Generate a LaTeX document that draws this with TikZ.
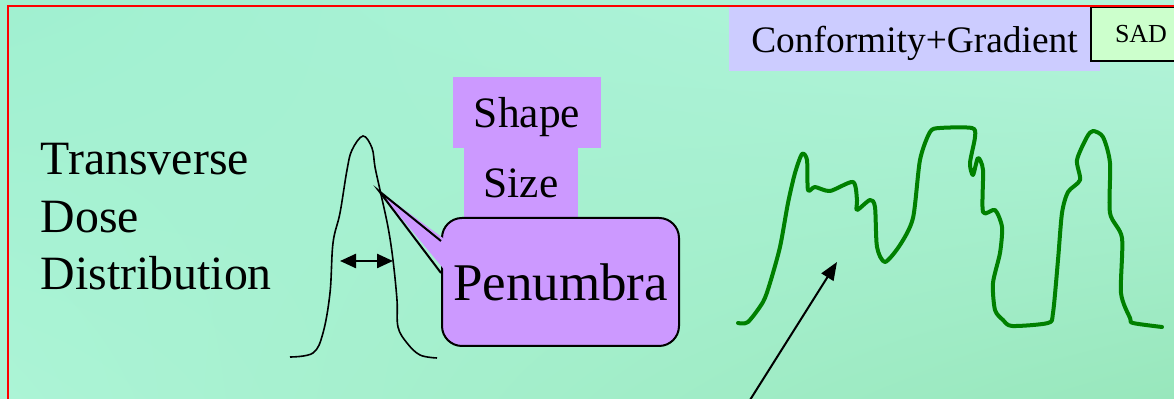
\documentclass[tikz,border=0pt]{standalone}
\usepackage{fontspec}
\setmainfont{Liberation Serif}
\usetikzlibrary{arrows.meta,shadings}

\definecolor{mintUL}{RGB}{160,240,208}
\definecolor{mintUR}{RGB}{180,245,220}
\definecolor{mintLL}{RGB}{172,244,214}
\definecolor{mintLR}{RGB}{152,231,188}
\definecolor{lilac}{RGB}{204,153,255}
\definecolor{lavender}{RGB}{204,204,255}
\definecolor{palegreen}{RGB}{204,255,204}
\definecolor{curvegreen}{RGB}{0,128,0}

\begin{document}
\begin{tikzpicture}[x=0.5pt,y=-0.5pt,line width=0.8pt,
  bigtext/.style={inner sep=0pt,anchor=base west,font=\fontsize{23.9}{28}\selectfont},
  lilacbox/.style={fill=lilac,inner sep=0pt,text depth=0pt,font=\fontsize{21.7}{26}\selectfont}]
\useasboundingbox (0,0) rectangle (1174,399);
\shade[upper left=mintUL,upper right=mintUR,lower left=mintLL,lower right=mintLR]
  (0,0) rectangle (1174,399);

% left text
\node[bigtext] (trans) at (40,175) {Transverse};
\node[bigtext] (dose) at (40,233) {Dose};
\node[bigtext] (distr) at (40,290) {Distribution};

% dose profile
\draw[line width=0.8pt] plot[smooth,tension=0.6] coordinates {
  (290,357) (313,353) (323,333) (330,293) (333,243) (340,213) (347,170)
  (352,150) (363,136) (372,148) (375,167) (380,190) (388,227) (393,260)
  (397,300) (398,327) (407,343) (420,355) (437,358)};
\coordinate (fwl) at (340,261);
\coordinate (fwr) at (393,261);
\draw[line width=1.2pt,{Triangle[length=8pt,width=7pt]}-{Triangle[length=8pt,width=7pt]}] (fwl) -- (fwr);

% boxes
\node[lilacbox,minimum width=74pt,minimum height=35.5pt] (shape) at (527,112.5) {Shape};
\node[lilacbox,minimum width=57pt,minimum height=35pt] (size) at (521,183) {Size};
\node[draw,fill=lilac,rounded corners=10pt,line width=1pt,inner sep=0pt,text depth=0pt,
  minimum width=118.5pt,minimum height=64pt,font=\fontsize{26.5}{30}\selectfont]
  (penumbra) at (560.5,282) {Penumbra};
\coordinate (tip) at (379,191);
\fill[lilac] (tip) -- (447,241) -- (447,273) -- cycle;
\draw[line width=1pt] (penumbra.west |- 0,241) -- (tip) -- (penumbra.west |- 0,273);

% top right labels
\node[fill=lavender,inner sep=0pt,text depth=0pt,minimum width=185.5pt,minimum height=32pt,
  font=\fontsize{18.7}{22}\selectfont] (conf) at (914.5,39) {Conformity+Gradient};
\node[draw,fill=palegreen,line width=1pt,inner sep=0pt,text depth=0pt,minimum width=50pt,
  minimum height=27pt,font=\fontsize{13}{15}\selectfont] (sad) at (1141,34) {SAD};

% frame
\draw[red,line width=1pt] (8,400) -- (8,6) -- (1190,6);

% dose distribution curve
\draw[curvegreen,line width=2pt,line join=round,line cap=round] plot[smooth,tension=0.45] coordinates {
  (738,323) (748,322) (763,302) (770,283) (780,247) (788,203) (795,173)
  (802,154) (807,160) (808,190) (815,187) (830,191) (853,182) (857,200)
  (857,210) (870,200) (875,207) (877,247) (885,262) (900,245) (913,218)
  (920,160) (930,132) (940,128) (972,128) (975,137) (970,163) (973,175)
  (978,158) (983,170) (983,212) (995,210) (1002,227) (1000,253) (993,283)
  (995,310) (1003,320) (1012,326) (1048,323) (1053,313) (1058,260)
  (1062,213) (1068,192) (1080,180) (1077,160) (1087,137) (1093,131)
  (1103,137) (1110,163) (1110,213) (1122,238) (1121,293) (1130,318)
  (1133,323) (1162,327)};

% pointer arrow
\coordinate (tail) at (750,400);
\coordinate (aim) at (837,262);
\draw[line width=1pt,-{Triangle[length=9pt,width=7pt]}] (tail) -- (aim);
\end{tikzpicture}
\end{document}
